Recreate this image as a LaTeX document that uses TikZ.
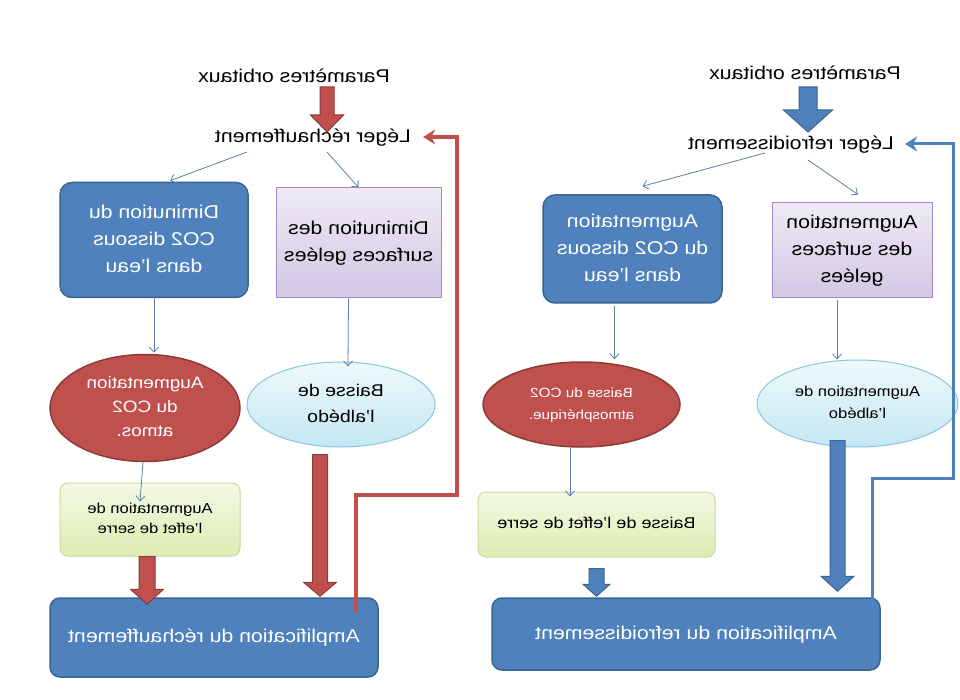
\documentclass[tikz,border=0pt]{standalone}
\usepackage{fontspec}
\setmainfont{Liberation Sans}[FakeStretch=1.15]
\usepackage{graphicx}
\usepackage{tikz}
\usetikzlibrary{calc,arrows.meta,shapes.geometric}

\definecolor{boxblue}{HTML}{4F81BD}
\definecolor{boxblueD}{HTML}{3A6494}
\definecolor{boxred}{HTML}{C0504D}
\definecolor{boxredD}{HTML}{8E3A37}
\definecolor{lavT}{HTML}{EEEAF5}
\definecolor{lavB}{HTML}{D2C7E5}
\definecolor{lavD}{HTML}{A08BC4}
\definecolor{cyanT}{HTML}{EEF9FC}
\definecolor{cyanB}{HTML}{C3E7F3}
\definecolor{cyanD}{HTML}{86C7DD}
\definecolor{grnT}{HTML}{F4F9E4}
\definecolor{grnB}{HTML}{DCEDB3}
\definecolor{grnD}{HTML}{C6DB9C}
\definecolor{thinc}{HTML}{5E7FA3}

% texte en miroir
\newcommand\mir[1]{\reflectbox{\begin{tabular}{@{}c@{}}#1\end{tabular}}}
\newcommand\fbig{\fontsize{18.5}{27}\selectfont}
\newcommand\fmid{\fontsize{16.5}{24}\selectfont}
\newcommand\fsmall{\fontsize{14.4}{20}\selectfont}
% grosse fleche verticale
\newcommand\blocarrow[6]{%
  \filldraw[#1] let \p1=(#2), \p2=(#3) in
    (\x1-#4pt,\y1) -- (\x1+#4pt,\y1) -- (\x1+#4pt,\y2+#6pt) -- (\x1+#5pt,\y2+#6pt)
    -- (\x1,\y2) -- (\x1-#5pt,\y2+#6pt) -- (\x1-#4pt,\y2+#6pt) -- cycle;}

\begin{document}
\begin{tikzpicture}[x=1pt,y=-1pt,
    every node/.style={inner sep=0pt},
    txt/.style={font=\fbig},
    bluebox/.style={rectangle, rounded corners=12pt, fill=boxblue, draw=boxblueD, line width=1.5pt, text=white, font=\fbig},
    lavbox/.style={rectangle, top color=lavT, bottom color=lavB, draw=lavD, line width=1pt, font=\fbig},
    redell/.style={ellipse, fill=boxred, draw=boxredD, line width=1.5pt, text=white},
    cyanell/.style={ellipse, top color=cyanT, bottom color=cyanB, draw=cyanD, line width=1pt},
    grnbox/.style={rectangle, rounded corners=8pt, top color=grnT, bottom color=grnB, draw=grnD, line width=1pt},
    ampbox/.style={rectangle, rounded corners=10pt, fill=boxblue, draw=boxblueD, line width=1.5pt, text=white, font=\fbig},
    thin/.style={draw=thinc, line width=0.8pt, -{Straight Barb[length=5pt,width=9pt]}},
    bigred/.style={fill=boxred, draw=boxredD, line width=1pt},
    bigblue/.style={fill=boxblue, draw=boxblueD, line width=1pt},
    fbred/.style={draw=boxred, line width=3.5pt, -{Stealth[length=12pt,width=15pt]}},
    fbblue/.style={draw=boxblue, line width=3pt, -{Stealth[length=12pt,width=15pt]}}]
  \fill[white] (0,0) rectangle (960,700);
  \useasboundingbox (0,0) rectangle (960,700);

  % rechauffement (gauche)
  \node[txt] (paramL) at (294,77) {\mir{Paramètres orbitaux}};
  \node[txt] (legerL) at (313,137) {\mir{Léger réchauffement}};
  \node[bluebox, minimum width=188pt, minimum height=115pt] (dissL) at (154,240)
    {\mir{Diminution du\\CO2 dissous\\dans l’eau}};
  \node[lavbox, minimum width=165pt, minimum height=110pt] (gelL) at (358.5,243)
    {\mir{Diminution des\\surfaces gelées}};
  \node[redell, minimum width=190pt, minimum height=107pt, font=\fmid] (co2L) at (145,408)
    {\mir{Augmentation\\du CO2\\atmos.}};
  \node[cyanell, minimum width=188pt, minimum height=85pt, font=\fontsize{17}{26}\selectfont] (albL) at (341,404.5)
    {\mir{Baisse de\\l’albédo}};
  \node[grnbox, minimum width=180pt, minimum height=73pt, font=\fsmall] (serreL) at (150,519.5)
    {\mir{Augmentation de\\l’effet de serre}};
  \node[ampbox, minimum width=328pt, minimum height=79pt] (ampL) at (214,637.5)
    {\mir{Amplification du réchauffement}};

  \draw[thin] ($(legerL)+(-66,15)$) -- ($(dissL.north)+(16,-1)$);
  \draw[thin] ($(legerL)+(14,15)$) -- (gelL.north);
  \draw[thin] (dissL.south) -- ($(co2L.north)+(9,-1)$);
  \draw[thin] ($(gelL.south)+(-10,0)$) -- ($(albL.north)+(7,5)$);
  \draw[thin] ($(co2L.south)+(-2,0)$) -- ($(serreL.north)+(-10,19)$);

  \blocarrow{bigred}{$(paramL)+(33,10)$}{$(legerL)+(14,-5)$}{7}{16.5}{17}
  \blocarrow{bigred}{$(serreL.south)+(-3,0)$}{$(ampL.north)+(-67,7)$}{8}{16.5}{15}
  \blocarrow{bigred}{$(albL.south)+(-21,7)$}{$(ampL.north)+(106,-1)$}{7.5}{16.5}{14}

  \coordinate (loopL) at (457,495);
  \draw[fbred] ($(ampL.north)+(142,15)$) |- (loopL) |- ($(legerL.east)+(12,0)$);

  % refroidissement (droite)
  \node[txt] (paramR) at (805,74) {\mir{Paramètres orbitaux}};
  \node[txt] (legerR) at (791,144) {\mir{Léger refroidissement}};
  \node[bluebox, minimum width=179pt, minimum height=108pt] (dissR) at (632.5,249)
    {\mir{Augmentation\\du CO2 dissous\\dans l’eau}};
  \node[lavbox, minimum width=160pt, minimum height=95pt] (gelR) at (852,250.5)
    {\mir{Augmentation\\des surfaces\\gelées}};
  \node[redell, minimum width=197pt, minimum height=85pt, font=\fontsize{13.3}{22}\selectfont] (co2R) at (581.5,404.5)
    {\mir{Baisse du CO2\\atmosphérique.}};
  \node[cyanell, minimum width=201pt, minimum height=87pt, font=\fontsize{14.4}{22}\selectfont] (albR) at (857.5,403.5)
    {\mir{Augmentation de\\l’albédo}};
  \node[grnbox, minimum width=237pt, minimum height=65pt, font=\fontsize{15.7}{20}\selectfont] (serreR) at (596.5,524.5)
    {\mir{Baisse de l’effet de serre}};
  \node[ampbox, minimum width=388pt, minimum height=72pt] (ampR) at (686,634)
    {\mir{Amplification du refroidissement}};

  \draw[thin] ($(legerR)+(-26,9)$) -- ($(dissR.north)+(10,-8)$);
  \draw[thin] ($(legerR)+(17,16)$) -- ($(gelR.north)+(6,-8)$);
  \draw[thin] ($(dissR.south)+(-18,2)$) -- ($(co2R.north)+(33,-2)$);
  \draw[thin] ($(gelR.south)+(-15,2)$) -- ($(albR.north)+(-20.5,0)$);
  \draw[thin] ($(co2R.south)+(-11.5,0)$) -- ($(serreR.north)+(-26.5,5)$);

  \blocarrow{bigblue}{$(paramR)+(3,13)$}{$(legerR)+(17,-12)$}{9}{24.5}{22}
  \blocarrow{bigblue}{$(serreR.south)+(0,11)$}{$(ampR.north)+(-90,-1)$}{7.5}{13.5}{12}
  \blocarrow{bigblue}{$(albR.south)+(-20,-7)$}{$(ampR.north)+(152,-6)$}{7.5}{16.5}{15}

  \coordinate (loopR) at (953,478);
  \draw[fbblue] ($(ampR.north)+(186,22)$) |- (loopR) |- ($(legerR.east)+(11,0)$);
\end{tikzpicture}
\end{document}
